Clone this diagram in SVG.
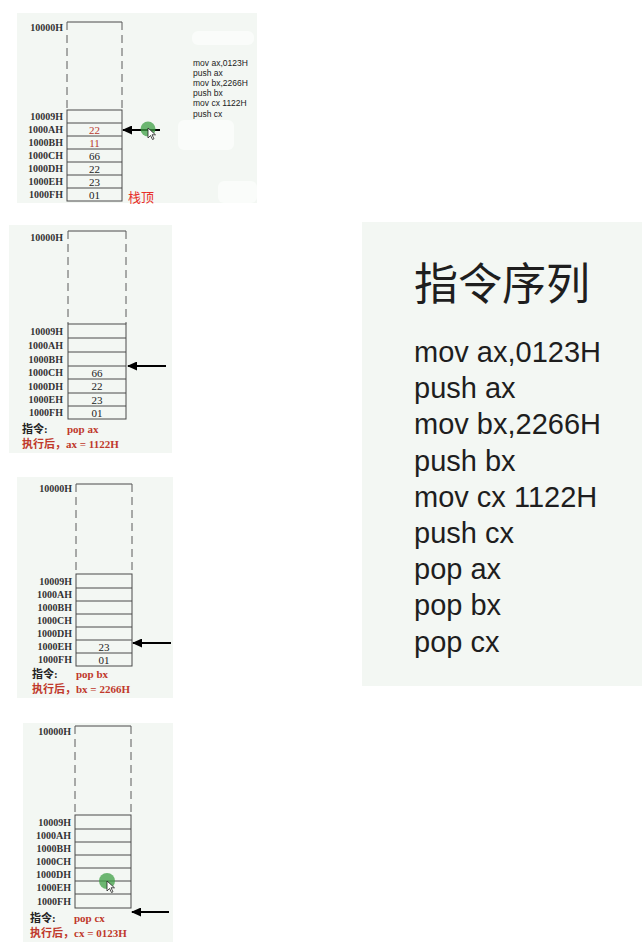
<svg xmlns="http://www.w3.org/2000/svg" width="642" height="951" viewBox="0 0 642 951">
<style>
.bg{fill:#f3f7f3}
.wp{fill:#fafcfa}
.cell{fill:none;stroke:#4a4a4a;stroke-width:1}
.dash{fill:none;stroke:#5a5a5a;stroke-width:1;stroke-dasharray:8 5}
.lbl{font-family:"Liberation Serif",serif;font-size:10px;font-weight:bold;fill:#333;text-anchor:end}
.val{font-family:"Liberation Serif",serif;font-size:11px;fill:#222;text-anchor:middle}
.red{fill:#b8382c}
.ins{font-family:"Liberation Serif","Noto Sans CJK SC",serif;font-size:11px;font-weight:bold}
.k{fill:#222}
.r{fill:#c0392b}
.code-s{font-family:"Liberation Sans",sans-serif;font-size:8.5px;fill:#222}
.code-l{font-family:"Liberation Sans",sans-serif;font-size:29px;fill:#1e1e1e}
.arr{stroke:#000;stroke-width:2.2;fill:none;marker-end:url(#ah)}
.dot{fill:#3fa046;fill-opacity:0.75}
.cur{fill:#fff;stroke:#222;stroke-width:0.8}
</style>
<defs>
<marker id="ah" markerWidth="10" markerHeight="9" refX="9" refY="4.5" orient="auto" markerUnits="userSpaceOnUse">
<path d="M0,0 L10,4.5 L0,9 z" fill="#000"/>
</marker>
</defs>

<g id="panel1">
<rect class="bg" x="17" y="13" width="240" height="190"/>
<rect class="wp" x="192" y="31" width="62" height="14" rx="6"/>
<rect class="wp" x="178" y="120" width="56" height="30" rx="6"/>
<rect class="wp" x="218" y="181" width="39" height="22" rx="6"/>
<line class="cell" x1="67" y1="22" x2="122" y2="22"/>
<line class="dash" x1="67" y1="22" x2="67" y2="110"/>
<line class="dash" x1="122" y1="22" x2="122" y2="110"/>
<rect class="cell" x="67" y="110" width="55" height="91"/>
<path class="cell" d="M67,123H122M67,136H122M67,149H122M67,162H122M67,175H122M67,188H122"/>
<text class="lbl" x="63" y="30.5">10000H</text>
<text class="lbl" x="63" y="120">10009H</text>
<text class="lbl" x="63" y="133">1000AH</text>
<text class="lbl" x="63" y="146">1000BH</text>
<text class="lbl" x="63" y="159">1000CH</text>
<text class="lbl" x="63" y="172">1000DH</text>
<text class="lbl" x="63" y="185">1000EH</text>
<text class="lbl" x="63" y="198">1000FH</text>
<text class="val red" x="94.5" y="133.5">22</text>
<text class="val red" x="94.5" y="146.5">11</text>
<text class="val" x="94.5" y="159.5">66</text>
<text class="val" x="94.5" y="172.5">22</text>
<text class="val" x="94.5" y="185.5">23</text>
<text class="val" x="94.5" y="198.5">01</text>
<text x="128" y="202" style="font-family:'Noto Sans CJK SC',sans-serif;font-size:13px;fill:#e8302a">栈顶</text>
<text class="code-s" x="193" y="65.5">mov ax,0123H</text>
<text class="code-s" x="193" y="75.7">push ax</text>
<text class="code-s" x="193" y="85.9">mov bx,2266H</text>
<text class="code-s" x="193" y="96.1">push bx</text>
<text class="code-s" x="193" y="106.3">mov cx 1122H</text>
<text class="code-s" x="193" y="116.5">push cx</text>
</g>

<g id="panel2">
<rect class="bg" x="9" y="225" width="163" height="228"/>
<line class="cell" x1="68" y1="231" x2="126" y2="231"/>
<line class="dash" x1="68" y1="231" x2="68" y2="324"/>
<line class="dash" x1="126" y1="231" x2="126" y2="324"/>
<rect class="cell" x="68" y="324" width="58" height="95"/>
<path class="cell" d="M68,338H126M68,352H126M68,366H126M68,379H126M68,393H126M68,406H126"/>
<text class="lbl" x="63" y="240.5">10000H</text>
<text class="lbl" x="63" y="334.5">10009H</text>
<text class="lbl" x="63" y="348.5">1000AH</text>
<text class="lbl" x="63" y="362.5">1000BH</text>
<text class="lbl" x="63" y="376">1000CH</text>
<text class="lbl" x="63" y="389.5">1000DH</text>
<text class="lbl" x="63" y="403">1000EH</text>
<text class="lbl" x="63" y="416">1000FH</text>
<text class="val" x="97" y="376.5">66</text>
<text class="val" x="97" y="390">22</text>
<text class="val" x="97" y="403.5">23</text>
<text class="val" x="97" y="416.5">01</text>
<text class="ins k" x="22" y="433">指令:</text>
<text class="ins r" x="67" y="433">pop ax</text>
<text class="ins r" x="22" y="448">执行后，ax = 1122H</text>
</g>

<g id="panel3">
<rect class="bg" x="17" y="477" width="156" height="221"/>
<line class="cell" x1="76" y1="484" x2="132" y2="484"/>
<line class="dash" x1="76" y1="484" x2="76" y2="574"/>
<line class="dash" x1="132" y1="484" x2="132" y2="574"/>
<rect class="cell" x="76" y="574" width="56" height="92"/>
<path class="cell" d="M76,588H132M76,601H132M76,614H132M76,627H132M76,640H132M76,653H132"/>
<text class="lbl" x="72" y="491.5">10000H</text>
<text class="lbl" x="72" y="584.5">10009H</text>
<text class="lbl" x="72" y="598">1000AH</text>
<text class="lbl" x="72" y="611">1000BH</text>
<text class="lbl" x="72" y="624">1000CH</text>
<text class="lbl" x="72" y="637">1000DH</text>
<text class="lbl" x="72" y="650">1000EH</text>
<text class="lbl" x="72" y="663">1000FH</text>
<text class="val" x="104" y="650.5">23</text>
<text class="val" x="104" y="663.5">01</text>
<text class="ins k" x="32" y="678">指令:</text>
<text class="ins r" x="76" y="678">pop bx</text>
<text class="ins r" x="32" y="693">执行后，bx = 2266H</text>
</g>

<g id="panel4">
<rect class="bg" x="23" y="723" width="150" height="219"/>
<line class="cell" x1="75" y1="726" x2="131" y2="726"/>
<line class="dash" x1="75" y1="726" x2="75" y2="815"/>
<line class="dash" x1="131" y1="726" x2="131" y2="815"/>
<rect class="cell" x="75" y="815" width="56" height="93"/>
<path class="cell" d="M75,829H131M75,842H131M75,855H131M75,868H131M75,881H131M75,894H131"/>
<text class="lbl" x="71" y="734.5">10000H</text>
<text class="lbl" x="71" y="825.5">10009H</text>
<text class="lbl" x="71" y="839">1000AH</text>
<text class="lbl" x="71" y="852">1000BH</text>
<text class="lbl" x="71" y="865">1000CH</text>
<text class="lbl" x="71" y="878">1000DH</text>
<text class="lbl" x="71" y="891">1000EH</text>
<text class="lbl" x="71" y="904.5">1000FH</text>
<text class="ins k" x="30" y="922">指令:</text>
<text class="ins r" x="74" y="922">pop cx</text>
<text class="ins r" x="30" y="937">执行后，cx = 0123H</text>
</g>

<g id="panel-instructions">
<rect class="bg" x="362" y="222" width="280" height="464"/>
<text x="414" y="300" style="font-family:'Noto Sans CJK SC',sans-serif;font-size:44px;fill:#1e1e1e">指令序列</text>
<text class="code-l" x="414" y="362">mov ax,0123H</text>
<text class="code-l" x="414" y="398.2">push ax</text>
<text class="code-l" x="414" y="434.4">mov bx,2266H</text>
<text class="code-l" x="414" y="470.6">push bx</text>
<text class="code-l" x="414" y="506.8">mov cx 1122H</text>
<text class="code-l" x="414" y="543">push cx</text>
<text class="code-l" x="414" y="579.2">pop ax</text>
<text class="code-l" x="414" y="615.4">pop bx</text>
<text class="code-l" x="414" y="651.6">pop cx</text>
</g>

<g id="connectors">
<line class="arr" x1="160" y1="130" x2="123" y2="130"/>
<line class="arr" x1="166" y1="366" x2="128" y2="366"/>
<line class="arr" x1="171" y1="643" x2="133" y2="643"/>
<line class="arr" x1="169" y1="912" x2="132" y2="912"/>
</g>

<g id="cursors">
<circle class="dot" cx="148" cy="129" r="7.5"/>
<path class="cur" d="M148,128 L148,138 L150.5,135.5 L152.5,139.5 L154,138.8 L152,134.8 L155.5,134.8 Z"/>
<circle class="dot" cx="107" cy="881" r="8"/>
<path class="cur" d="M107,881 L107,891 L109.5,888.5 L111.5,892.5 L113,891.8 L111,887.8 L114.5,887.8 Z"/>
</g>
</svg>
